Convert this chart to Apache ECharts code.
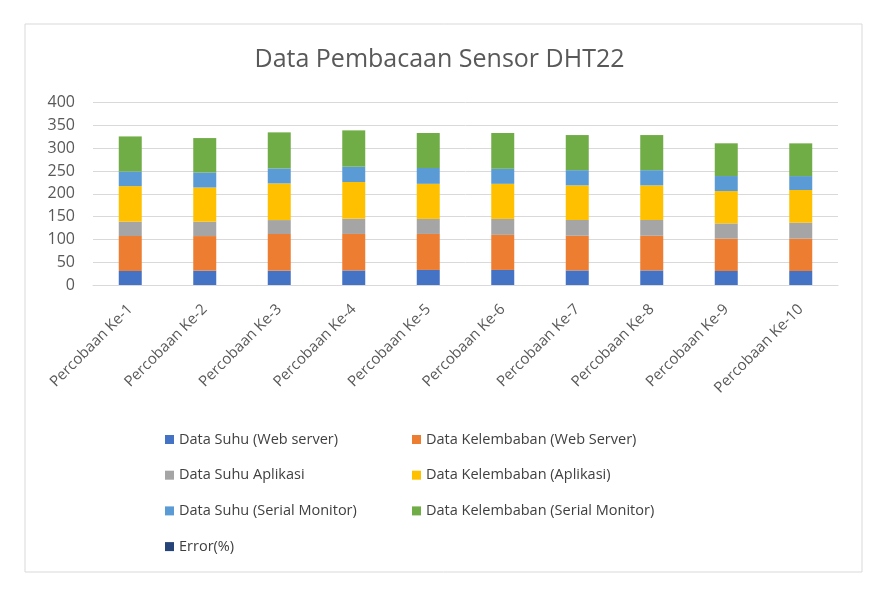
<!DOCTYPE html>
<html>
<head>
<meta charset="utf-8">
<script src="https://cdn.jsdelivr.net/npm/echarts@6/dist/echarts.min.js"></script>
<style>
  html, body { margin: 0; padding: 0; background: #fff; }
  #chart { width: 879px; height: 590px; }
</style>
</head>
<body>
<div id="chart"></div>
<script>
// kategori percobaan
var categories = ['Percobaan Ke-1', 'Percobaan Ke-2', 'Percobaan Ke-3', 'Percobaan Ke-4', 'Percobaan Ke-5',
                  'Percobaan Ke-6', 'Percobaan Ke-7', 'Percobaan Ke-8', 'Percobaan Ke-9', 'Percobaan Ke-10']
var suhuWeb = [30.7, 31.4, 31.4, 32, 33, 33, 32, 32, 30.7, 30.7]
var lembabWeb = [76.8, 76, 80.5, 80, 79, 77, 76, 76, 71, 71]
var suhuApp = [31.5, 31.5, 30.6, 33.5, 33, 35, 34.6, 34.6, 33.4, 35]
var lembabApp = [78, 75, 80.4, 80.5, 77, 77, 76, 76, 71, 71.7]
var suhuSerial = [32, 33, 33, 33.6, 34.7, 33, 33.4, 33.4, 33, 30.6]
var lembabSerial = [77, 75.5, 79, 79.7, 76.8, 78.5, 77, 77, 71.8, 71.8]
var errorPersen = [0, 0, 0, 0, 0, 0, 0, 0, 0, 0]
var yTicks = [0, 50, 100, 150, 200, 250, 300, 350, 400]

var names = ['Data Suhu (Web server)', 'Data Kelembaban (Web Server)', 'Data Suhu Aplikasi',
             'Data Kelembaban (Aplikasi)', 'Data Suhu (Serial Monitor)', 'Data Kelembaban (Serial Monitor)', 'Error(%)']
var colors = ['#4472C4', '#ED7D31', '#A5A5A5', '#FFC000', '#5B9BD5', '#70AD47', '#264478']
var allData = [suhuWeb, lembabWeb, suhuApp, lembabApp, suhuSerial, lembabSerial, errorPersen]

var font = 'Open Sans'
var series = []
for (var i = 0; i < names.length; i++) {
  series.push({
    name: names[i],
    type: 'bar',
    stack: 'total',
    barWidth: 23,
    itemStyle: { color: colors[i] },
    data: allData[i]
  })
}

var legendCommon = {
  orient: 'vertical',
  icon: 'rect',
  itemWidth: 9,
  itemHeight: 9,
  itemGap: 20.7,
  top: 427,
  textStyle: { fontFamily: font, fontSize: 14.5, color: '#404040' }
}

var MyChart = echarts.init(document.getElementById('chart'))
var option = {
  animation: false,
  color: colors,
  title: {
    text: 'Data Pembacaan Sensor DHT22',
    left: 'center',
    top: 42,
    textStyle: { fontFamily: font, fontSize: 25, fontWeight: 'normal', color: '#595959' }
  },
  graphic: [{
    type: 'rect',
    shape: { x: 25, y: 24, width: 837, height: 548 },
    style: { fill: null, stroke: '#d9d9d9', lineWidth: 1 }
  }],
  legend: [
    Object.assign({ left: 160, data: [names[0], names[2], names[4], names[6]] }, legendCommon),
    Object.assign({ left: 407, data: [names[1], names[3], names[5]] }, legendCommon)
  ],
  grid: { left: 93, right: 41, top: 102.7, bottom: 305 },
  xAxis: {
    type: 'category',
    data: categories,
    axisLine: { lineStyle: { color: '#d9d9d9' } },
    axisTick: { show: false },
    axisLabel: { interval: 0, rotate: 45, margin: 22, fontFamily: font, fontSize: 15, color: '#595959' }
  },
  yAxis: {
    type: 'value',
    min: yTicks[0],
    max: yTicks[yTicks.length - 1],
    interval: 50,
    axisLine: { show: false },
    axisTick: { show: false },
    splitLine: { lineStyle: { color: '#d9d9d9' } },
    axisLabel: { margin: 18, fontFamily: font, fontSize: 16, color: '#595959' }
  },
  series: series
}
MyChart.setOption(option)
</script>
</body>
</html>
